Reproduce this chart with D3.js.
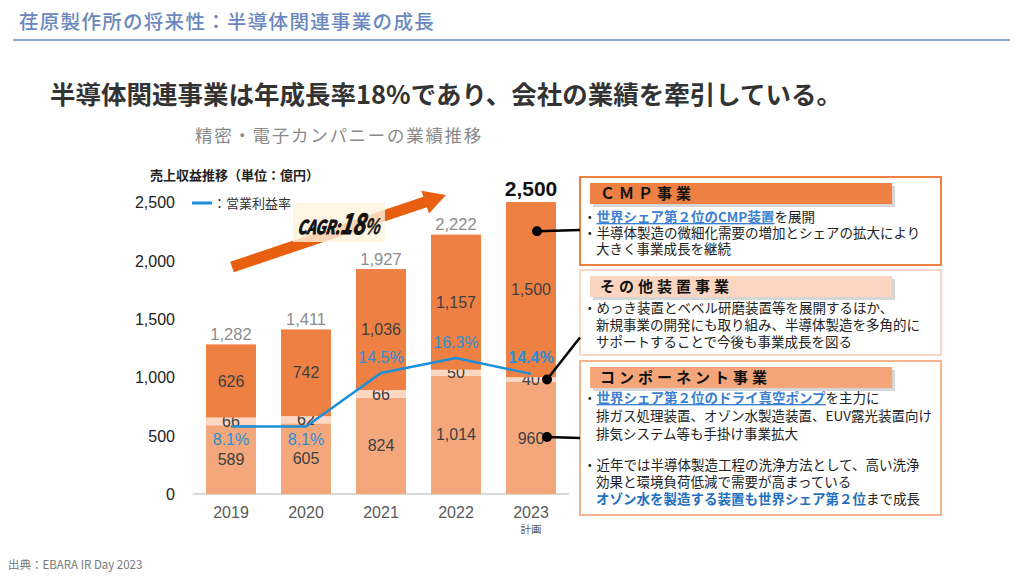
<!DOCTYPE html>
<html><head><meta charset="utf-8">
<script src="https://cdn.jsdelivr.net/npm/d3@7"></script>
<style>
html,body{margin:0;padding:0;background:#fff;}
svg{display:block;}
text{font-family:"Noto Sans CJK JP","Noto Sans",sans-serif;}
.num{font-family:"Liberation Sans",Arial,sans-serif;}
</style></head>
<body>
<svg id="c" width="1024" height="576"></svg>
<script>
// ---- data ----
const years = ["2019","2020","2021","2022","2023"];
const component = [589,605,824,1014,960];
const others = [66,62,66,50,40];
const cmp = [626,742,1036,1157,1500];
const totals = [1282,1411,1927,2222,2500];
const totalLabels = ["1,282","1,411","1,927","2,222","2,500"];
const margin = [8.1,8.1,14.5,16.3,14.4];
const yTicks = [0,500,1000,1500,2000,2500];
const seriesNames = ["コンポーネント事業","その他装置事業","CMP事業"];

const svg = d3.select("#c");
const fmt = d3.format(",");

// header
svg.append("text").attr("x",19).attr("y",29).attr("font-size",19.5).attr("letter-spacing",1.3)
  .attr("font-weight",500).attr("fill","#6A88BE")
  .text("荏原製作所の将来性：半導体関連事業の成長");
svg.append("line").attr("x1",13).attr("x2",1010).attr("y1",40).attr("y2",40)
  .attr("stroke","#8FA8D3").attr("stroke-width",2);
svg.append("text").attr("x",50).attr("y",104).attr("font-size",25.5).attr("font-weight",700).attr("fill","#333")
  .text("半導体関連事業は年成長率18%であり、会社の業績を牽引している。");
svg.append("text").attr("x",195).attr("y",142).attr("font-size",17.5).attr("letter-spacing",1.7).attr("fill","#8a8a8a")
  .text("精密・電子カンパニーの業績推移");
svg.append("text").attr("x",150).attr("y",180).attr("font-size",13).attr("font-weight",700).attr("fill","#222")
  .text("売上収益推移（単位：億円）");

// scales
const x = d3.scaleBand().domain(years).range([193.5,568.5]).paddingInner(1/3).paddingOuter(1/6);
const y = d3.scaleLinear().domain([0,2500]).range([494,202]);
const y2 = d3.scaleLinear().domain([0,35]).range([494,202]);

// y tick labels
const yAxis = d3.axisLeft(y).tickValues(yTicks).tickFormat(fmt).tickSize(0).tickPadding(0);
const ga = svg.append("g").attr("transform","translate(175,0)").call(yAxis);
ga.select(".domain").remove();
ga.selectAll("text").attr("class","num").attr("font-size",16).attr("fill","#222").attr("dy","0.35em");

// baseline
svg.append("line").attr("x1",193).attr("x2",569).attr("y1",y(0)).attr("y2",y(0))
  .attr("stroke","#d9d9d9").attr("stroke-width",2);

// stacked bars
const rows = years.map((yr,i)=>({year:yr, c:component[i], o:others[i], m:cmp[i]}));
const stack = d3.stack().keys(["c","o","m"])(rows);
const colors = {c:"#F4A77B", o:"#FCD7C3", m:"#EE8043"};
stack.forEach(layer=>{
  svg.append("g").selectAll("rect").data(layer).join("rect")
    .attr("x",d=>x(d.data.year)).attr("width",x.bandwidth())
    .attr("y",d=>y(d[1])).attr("height",d=>y(d[0])-y(d[1]))
    .attr("fill",colors[layer.key]);
  svg.append("g").selectAll("text").data(layer).join("text")
    .attr("class","num").attr("font-size",16).attr("fill","#404040").attr("text-anchor","middle")
    .attr("x",d=>x(d.data.year)+x.bandwidth()/2)
    .attr("y",d=>(y(d[0])+y(d[1]))/2).attr("dy","0.35em")
    .text(d=>fmt(d.data[layer.key]));
});

// totals
svg.append("g").selectAll("text").data(years).join("text")
  .attr("class","num").attr("text-anchor","middle")
  .attr("x",d=>x(d)+x.bandwidth()/2)
  .attr("y",(d,i)=>y(totals[i])-(i===4?6:4))
  .attr("font-size",(d,i)=>i===4?21:16.5)
  .attr("font-weight",(d,i)=>i===4?700:400)
  .attr("fill",(d,i)=>i===4?"#111":"#8C8C8C")
  .text((d,i)=>totalLabels[i]);

// x labels
svg.append("g").selectAll("text").data(years).join("text")
  .attr("class","num").attr("text-anchor","middle").attr("font-size",16).attr("fill","#595959")
  .attr("x",d=>x(d)+x.bandwidth()/2).attr("y",518).text(d=>d);
svg.append("text").attr("x",x("2023")+x.bandwidth()/2).attr("y",533).attr("text-anchor","middle")
  .attr("font-size",10.5).attr("fill","#595959").text("計画");

// margin line
const line = d3.line().x((d,i)=>x(years[i])+x.bandwidth()/2).y(d=>y2(d));
svg.append("path").datum(margin).attr("d",line).attr("fill","none")
  .attr("stroke","#1B8FD8").attr("stroke-width",2.5);
svg.append("g").selectAll("text").data(margin).join("text")
  .attr("class","num").attr("text-anchor","middle").attr("font-size",16)
  .attr("font-weight",(d,i)=>i===4?700:400)
  .attr("fill","#2A8FD6")
  .attr("x",(d,i)=>x(years[i])+x.bandwidth()/2)
  .attr("y",(d,i)=>y2(d)+(i<2?13:-16)).attr("dy","0.35em")
  .text(d=>d.toFixed(1)+"%");

// legend
svg.append("line").attr("x1",192).attr("x2",212).attr("y1",203).attr("y2",203)
  .attr("stroke","#1B8FD8").attr("stroke-width",3);
svg.append("text").attr("x",213).attr("y",208).attr("font-size",13).attr("fill","#333").text("：営業利益率");

// CAGR arrow
(function(){
  const x0=232,y0=267,x1=446,y1=195;
  const ang=Math.atan2(y1-y0,x1-x0), L=Math.hypot(x1-x0,y1-y0);
  const sw=5.5, hw=12, hl=22;
  const pts=[[0,-sw],[L-hl,-sw],[L-hl,-hw],[L,0],[L-hl,hw],[L-hl,sw],[0,sw]];
  const c=Math.cos(ang), s=Math.sin(ang);
  const p=pts.map(([u,v])=>[x0+u*c-v*s, y0+u*s+v*c]);
  svg.append("path").attr("d",d3.line()(p)+"Z").attr("fill","#E8600F");
})();
svg.append("rect").attr("x",293).attr("y",203).attr("width",92).attr("height",39)
  .attr("fill","#FFF3DC").attr("opacity",0.8);
const cg = svg.append("text").attr("transform","translate(297,234) scale(0.78,1.05) skewX(-10)")
  .attr("font-family","'Liberation Sans','DejaVu Sans',sans-serif")
  .attr("font-weight",700).attr("font-style","italic").attr("fill","#111")
  .attr("stroke","#111").attr("stroke-width",1);
cg.append("tspan").attr("font-size",18).text("CAGR:");
cg.append("tspan").attr("font-size",27).text("18");
cg.append("tspan").attr("font-size",20).attr("stroke-width",0.4).text("%");

// right boxes
function box(y0,h,border,headFill,title){
  svg.append("rect").attr("x",580).attr("y",y0).attr("width",361).attr("height",h)
    .attr("fill","#fff").attr("stroke",border).attr("stroke-width",2);
  svg.append("rect").attr("x",593).attr("y",y0+9).attr("width",302).attr("height",21).attr("fill","#bbb").attr("opacity",0.6);
  svg.append("rect").attr("x",590).attr("y",y0+6).attr("width",302).attr("height",21).attr("fill",headFill);
  svg.append("text").attr("x",600).attr("y",y0+22).attr("font-size",15).attr("font-weight",700)
    .attr("letter-spacing",4).attr("fill","#111").text(title);
}
box(177,88,"#EE8043","#EE8043","ＣＭＰ事業");
box(270,85,"#FBD8C4","#FBD5C0","その他装置事業");
box(361,154,"#F5B48E","#F4A67A","コンポーネント事業");

function para(x0,yb,parts){
  const t=svg.append("text").attr("x",x0).attr("y",yb).attr("font-size",13.5).attr("fill","#222");
  parts.forEach(p=>{
    const ts=t.append("tspan").text(p.t);
    if(p.b){ts.attr("fill",p.c||"#2F75C8").attr("font-weight",700);}
    if(p.u){ts.attr("text-decoration","underline");}
  });
}
const BX=583, TX=596;
para(BX,222,[{t:"・"},{t:"世界シェア第２位のCMP装置",b:1,u:1,c:"#3D7FD0"},{t:"を展開"}]);
para(BX,238,[{t:"・半導体製造の微細化需要の増加とシェアの拡大により"}]);
para(TX,254,[{t:"大きく事業成長を継続"}]);
para(BX,313,[{t:"・めっき装置とベベル研磨装置等を展開するほか、"}]);
para(TX,330,[{t:"新規事業の開発にも取り組み、半導体製造を多角的に"}]);
para(TX,347,[{t:"サポートすることで今後も事業成長を図る"}]);
para(BX,403,[{t:"・"},{t:"世界シェア第２位のドライ真空ポンプ",b:1,u:1,c:"#3D7FD0"},{t:"を主力に"}]);
para(TX,421,[{t:"排ガス処理装置、オゾン水製造装置、EUV露光装置向け"}]);
para(TX,439,[{t:"排気システム等も手掛け事業拡大"}]);
para(BX,470,[{t:"・近年では半導体製造工程の洗浄方法として、高い洗浄"}]);
para(TX,487,[{t:"効果と環境負荷低減で需要が高まっている"}]);
para(TX,504,[{t:"オゾン水を製造する装置も世界シェア第２位",b:1,c:"#1F6FC0"},{t:"まで成長"}]);

// connectors
const cx = x("2023")+x.bandwidth()/2;
const conns = [
  {p:[[cx+6,y(2250)],[580,y(2260)]]},
  {p:[[cx+16,y(980)],[580,y(1340)]]},
  {p:[[cx+16,y(488)],[580,y(480)]]}
];
conns.forEach(c=>{
  svg.append("path").attr("d",d3.line()(c.p)).attr("stroke","#000").attr("stroke-width",2.5).attr("fill","none");
  svg.append("circle").attr("cx",c.p[0][0]).attr("cy",c.p[0][1]).attr("r",5).attr("fill","#000");
});

// footer
svg.append("text").attr("x",8).attr("y",569).attr("font-size",11.5).attr("fill","#777").text("出典：EBARA IR Day 2023");
</script>
</body></html>
